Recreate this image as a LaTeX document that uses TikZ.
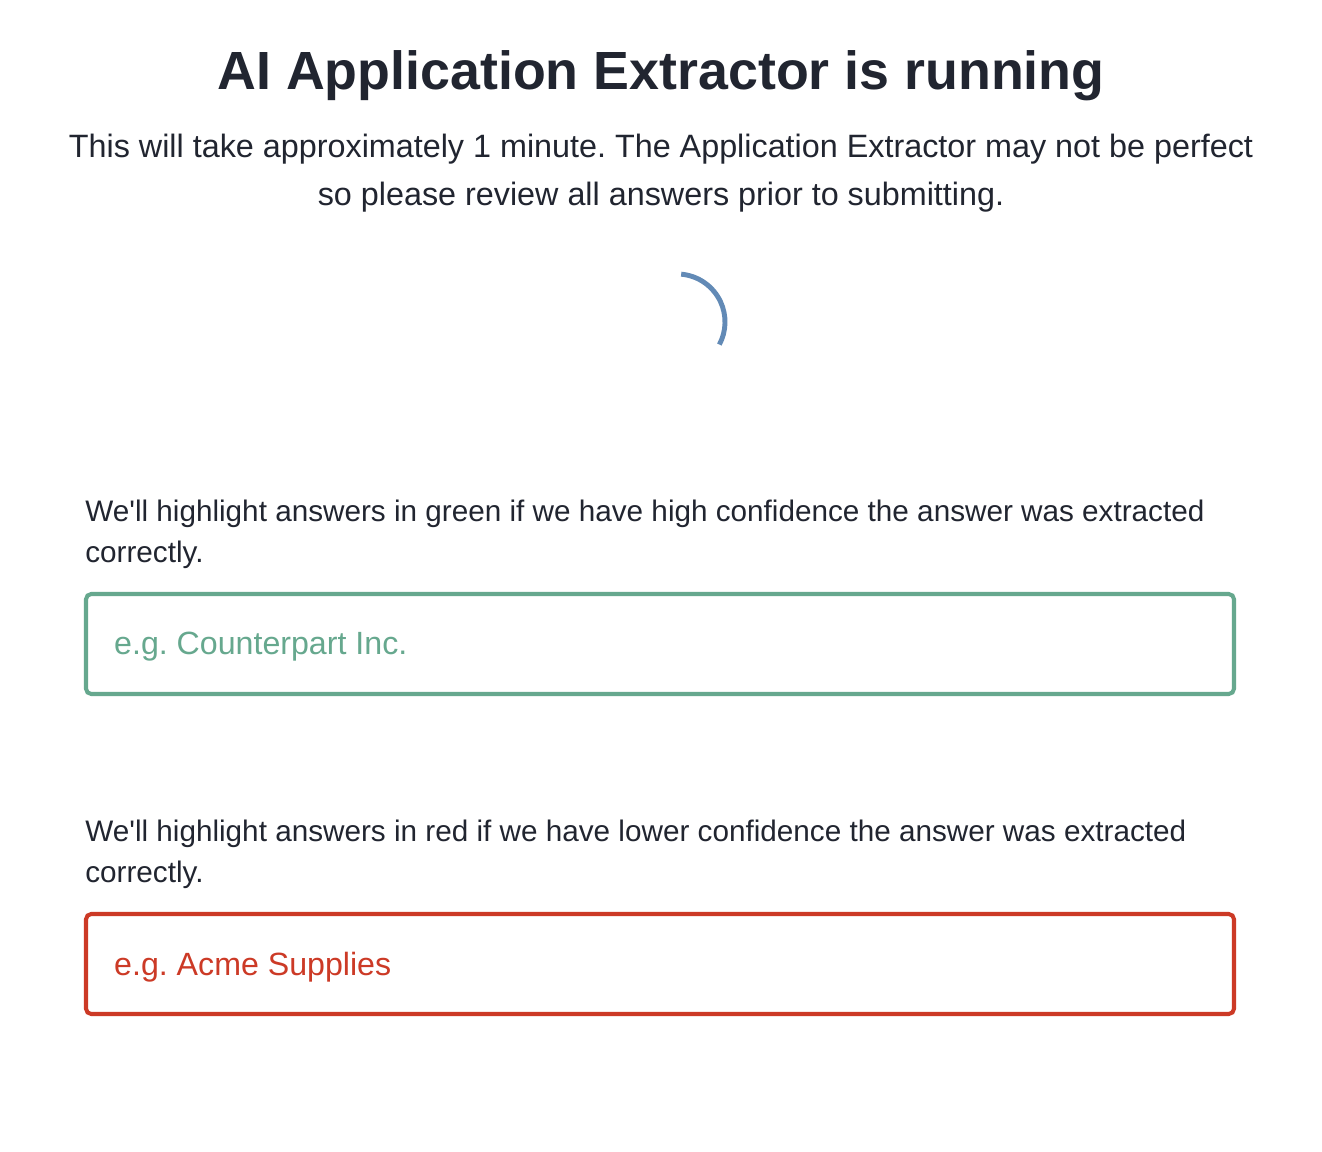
\documentclass[tikz,border=0pt]{standalone}
\usepackage{fontspec}
\setmainfont{Liberation Sans}
\frenchspacing
\definecolor{inktext}{RGB}{33,37,48}
\definecolor{okgreen}{RGB}{102,168,142}
\definecolor{lowred}{RGB}{204,58,38}
\definecolor{spinblue}{RGB}{98,138,182}
\begin{document}
\begin{tikzpicture}[x=0.02cm,y=-0.02cm,
  hint/.style={anchor=west,text=inktext,font=\fontsize{16.9}{20}\selectfont,inner sep=0pt},
  answerbox/.style={rounded corners=3pt,line width=2.3pt}]
\useasboundingbox[fill=white] (0,0) rectangle (1322,1152);
\node(title) [text=inktext,font=\bfseries\fontsize{30.6}{36}\selectfont] at (661,76) {AI Application Extractor is running};
\node(sub) [text=inktext,align=center,font=\fontsize{18.4}{27}\selectfont] at (661,173) {This will take approximately 1 minute. The Application Extractor may not be perfect\\so please review all answers prior to submitting.};
\draw[spinblue,line width=2.8pt] (677,322) ++(-85:48) arc (-85:28:48);
\node(greenhint) [hint] at (85,514) {We\textquotesingle ll highlight answers in green if we have high confidence the answer was extracted};
\node(greenhint2) [hint] at (85,555) {correctly.};
\draw[answerbox,okgreen] (86,594) rectangle (1234,694);
\node(greenex) [anchor=west,text=okgreen,font=\fontsize{18.3}{22}\selectfont] at (108,647) {e.g. Counterpart Inc.};
\node(redhint) [hint] at (85,834) {We\textquotesingle ll highlight answers in red if we have lower confidence the answer was extracted};
\node(redhint2) [hint] at (85,875) {correctly.};
\draw[answerbox,lowred] (86,914) rectangle (1234,1014);
\node(redex) [anchor=west,text=lowred,font=\fontsize{18.3}{22}\selectfont] at (108,967) {e.g. Acme Supplies};
\end{tikzpicture}
\end{document}
